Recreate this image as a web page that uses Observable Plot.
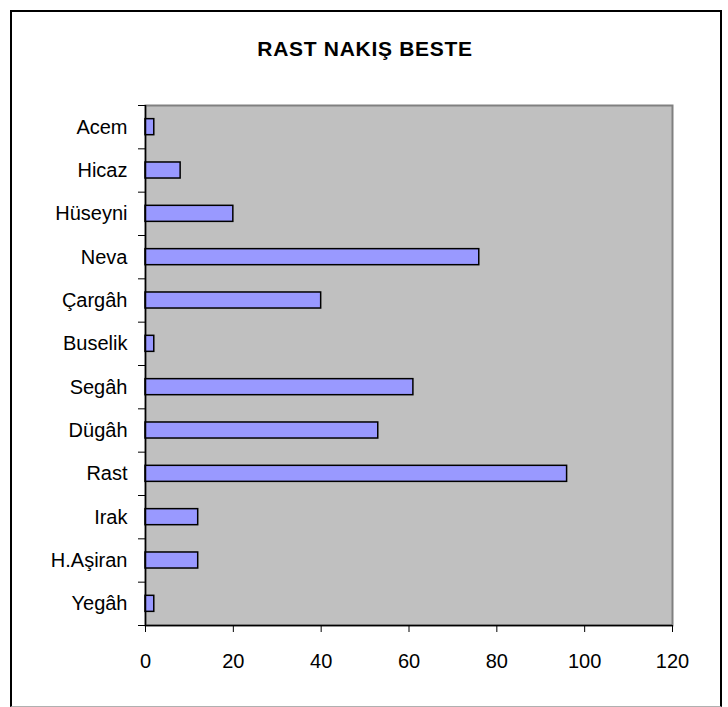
<!DOCTYPE html>
<html>
<head>
<meta charset="utf-8">
<script src="https://cdn.jsdelivr.net/npm/d3@7"></script>
<script src="https://cdn.jsdelivr.net/npm/@observablehq/plot@0.6"></script>
<style>
  html, body { margin: 0; padding: 0; background: #fff; }
  #wrap { position: relative; width: 728px; height: 707px; overflow: hidden; font-family: "Liberation Sans", Arial, sans-serif; }
  #frame { position: absolute; left: 10px; top: 10px; width: 712px; height: 697px; box-sizing: border-box;
           border-left: 2px solid #000; border-top: 2px solid #000; border-right: 2px solid #000; border-bottom: 1px solid #b0b0b0; }
  #title { position: absolute; left: 0; top: 38px; width: 730px; text-align: center; font-size: 21px; line-height: 21px;
           font-weight: bold; letter-spacing: 0.7px; color: #000; }
  #chart { position: absolute; left: 0; top: 0; }
</style>
</head>
<body>
<div id="wrap">
  <div id="frame"></div>
  <div id="title">RAST NAKIŞ BESTE</div>
  <div id="chart"></div>
</div>
<script>
const categories = ["Acem", "Hicaz", "Hüseyni", "Neva", "Çargâh", "Buselik", "Segâh", "Dügâh", "Rast", "Irak", "H.Aşiran", "Yegâh"];
const values = [2, 8, 20, 76, 40, 2, 61, 53, 96, 12, 12, 2];
const xTicks = [0, 20, 40, 60, 80, 100, 120];

const data = categories.map((name, i) => ({name, i, value: values[i]}));
const boundaries = d3.range(-0.5, categories.length, 1);
const half = 0.185;

const chart = Plot.plot({
  width: 728,
  height: 707,
  marginLeft: 145,
  marginRight: 56,
  marginTop: 105,
  marginBottom: 82,
  style: {background: "transparent", fontFamily: "'Liberation Sans', Arial, sans-serif", color: "#000"},
  x: {domain: [0, 120]},
  y: {domain: [-0.5, categories.length - 0.5], reverse: true},
  marks: [
    Plot.frame({fill: "#c0c0c0", stroke: "#808080", strokeWidth: 2}),
    Plot.rect(data, {
      x1: d => 0,
      x2: "value",
      y1: d => d.i - half,
      y2: d => d.i + half,
      fill: "#9999ff",
      stroke: "#000",
      strokeWidth: 1.5
    }),
    Plot.ruleX([0], {stroke: "#000", strokeWidth: 1.5}),
    Plot.ruleY([categories.length - 0.5], {stroke: "#000", strokeWidth: 1.5}),
    Plot.axisY({ticks: boundaries, tickSize: 7, tickFormat: () => "", label: null, stroke: "#000"}),
    Plot.axisY({ticks: data.map(d => d.i), tickFormat: i => categories[i], tickSize: 0, tickPadding: 18, fontSize: 20, label: null, fill: "#000"}),
    Plot.axisX({ticks: xTicks, tickSize: 7, tickPadding: 21, fontSize: 20, label: null, fill: "#000", stroke: "#000"})
  ]
});
document.getElementById("chart").appendChild(chart);
</script>
</body>
</html>
